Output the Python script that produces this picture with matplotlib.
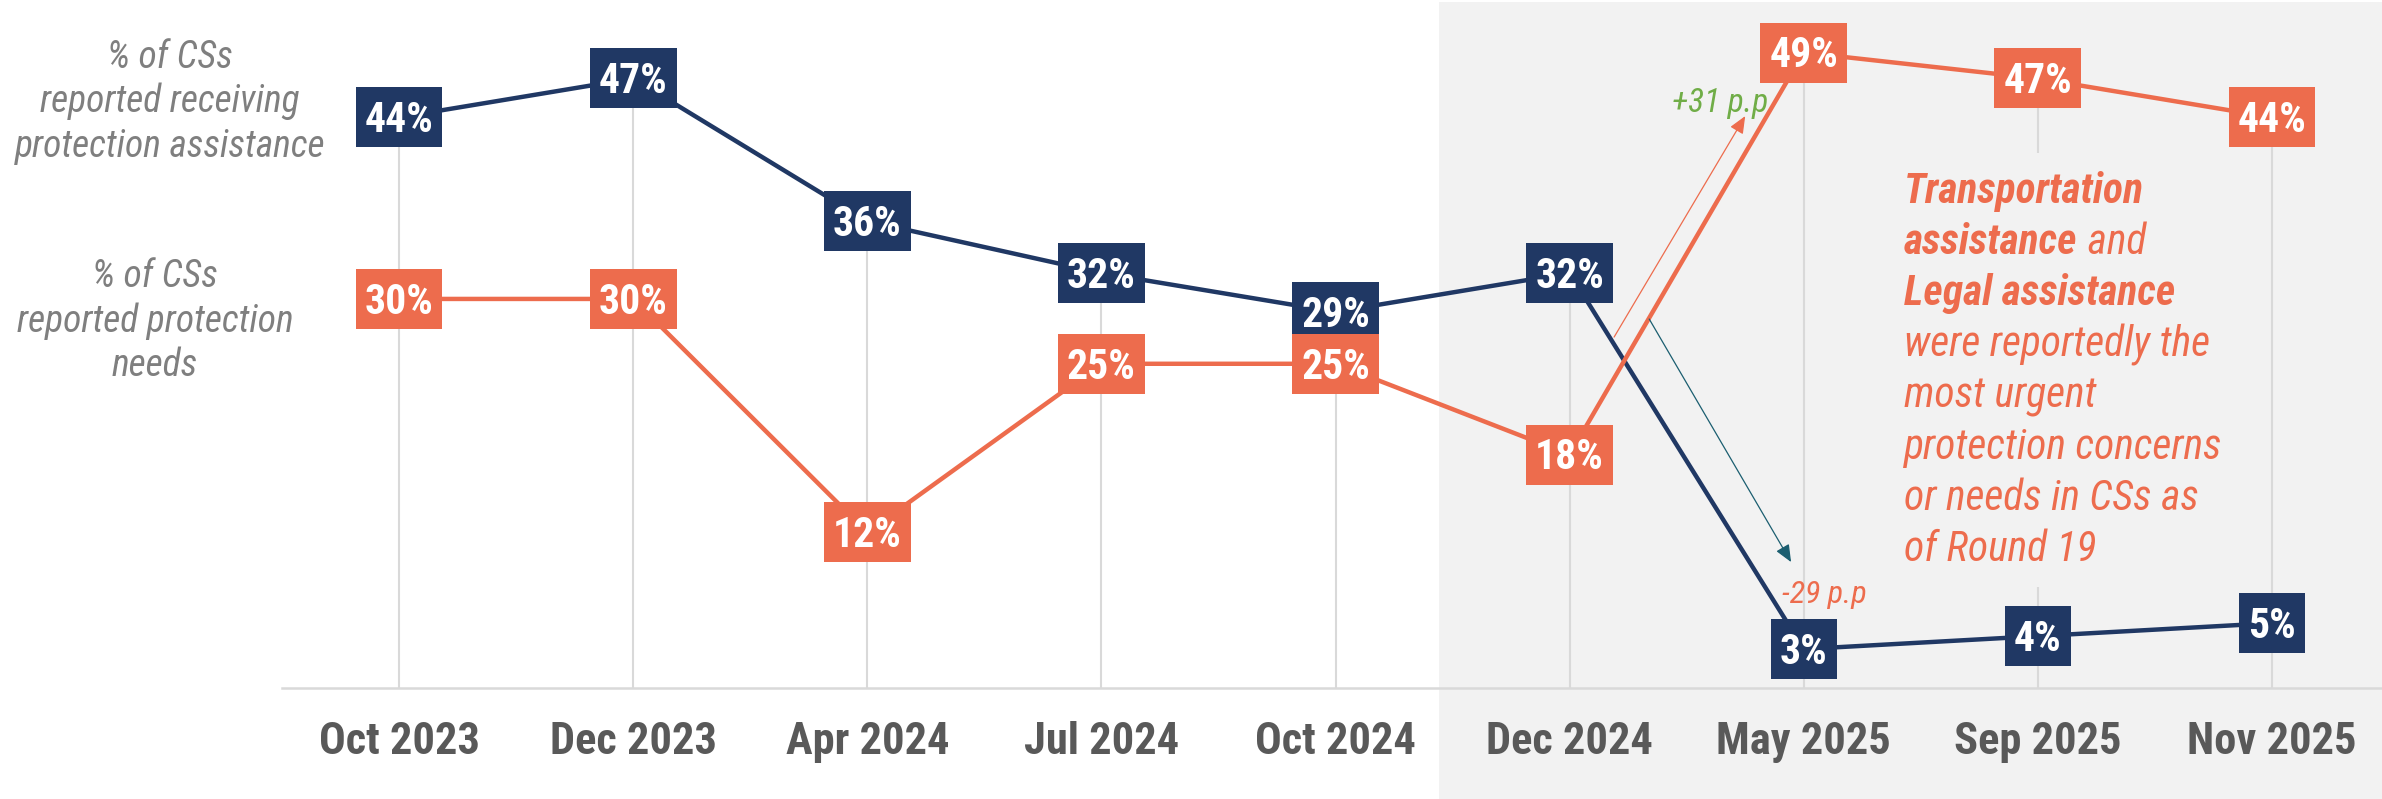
import matplotlib
matplotlib.use("Agg")
import matplotlib.pyplot as plt
import matplotlib.transforms as mtransforms
from matplotlib import font_manager as fm
from matplotlib.patches import Rectangle

# ---------------- data ----------------
categories = ["Oct 2023", "Dec 2023", "Apr 2024", "Jul 2024", "Oct 2024",
              "Dec 2024", "May 2025", "Sep 2025", "Nov 2025"]
receiving = [44, 47, 36, 32, 29, 32, 3, 4, 5]      # % CSs receiving protection assistance
needs = [30, 30, 12, 25, 25, 18, 49, 47, 44]        # % CSs reporting protection needs

# ---------------- style ----------------
NAVY = "#203864"
ORANGE = "#ED6C4D"
GREEN = "#70AD47"
TEAL = "#1B5E70"
GRID = "#d9d9d9"
SHADE = "#f2f2f2"
TICK = "#595959"
LABEL = "#7f7f7f"

names = {f.name for f in fm.fontManager.ttflist}


def pick(cands):
    for c in cands:
        if c in names:
            return c
    return "DejaVu Sans"


COND = pick(["Roboto Condensed", "Liberation Sans Narrow", "DejaVu Sans"])
WS = 1.0 if COND == "Roboto Condensed" else 1.1

W, H = 2382, 799
fig = plt.figure(figsize=(W / 100, H / 100), dpi=100)
fig.patch.set_facecolor("white")
ax = fig.add_axes([282 / W, 111 / H, 1 - 282 / W, 688 / H])
ax.set_facecolor("none")
ax.set_xlim(-0.5, 8.47)
ax.set_ylim(0, 53.05)

x = list(range(len(categories)))

# shaded "recent" region
trans = mtransforms.blended_transform_factory(ax.transData, fig.transFigure)
fig.patches.append(Rectangle((4.44, 0), 10, 1 - 2 / H, transform=trans,
                             facecolor=SHADE, edgecolor="none", zorder=-1))

for s in ["top", "right", "left"]:
    ax.spines[s].set_visible(False)
ax.spines["bottom"].set_color(GRID)
ax.spines["bottom"].set_linewidth(1.8)
ax.set_yticks([])
ax.set_xticks(x, categories)
ax.tick_params(axis="x", length=0, pad=24, labelsize=32, labelcolor=TICK)
for lbl in ax.get_xticklabels():
    lbl.set_fontfamily(COND)
    lbl.set_fontweight("bold")

# drop lines
tops = [max(a, b) for a, b in zip(receiving, needs)]
ax.vlines(x, 0, tops, colors=GRID, lw=1.5, zorder=1)

# lines
ax.plot(x, receiving, color=NAVY, lw=3.2, zorder=3)
ax.plot(x, needs, color=ORANGE, lw=3.2, zorder=4)

# value labels in boxes
FS = 30
CAP = FS * 0.716
texts = []
for vals, col in [(receiving, NAVY), (needs, ORANGE)]:
    for xi, v in zip(x, vals):
        t = ax.annotate(f"{v}%", (xi, v), xytext=(0, -CAP / 2),
                        textcoords="offset points", ha="center", va="baseline",
                        color="white", fontsize=FS, fontweight="bold",
                        family=COND, zorder=8)
        texts.append((t, xi, v, col))

# annotation block background (hides the drop line behind the text)
ax.add_patch(Rectangle((6.386, 7.79), 7.86 - 6.386, 41.25 - 7.79,
                       facecolor=SHADE, edgecolor="none", zorder=2))

# change arrows
ax.annotate("", xy=(5.75, 44.1), xytext=(5.19, 27.06),
            arrowprops=dict(arrowstyle="-|>,head_length=1.05,head_width=0.45",
                            color=ORANGE, lw=0.9, shrinkA=0, shrinkB=0), zorder=5)
ax.annotate("", xy=(5.946, 9.71), xytext=(5.34, 28.45),
            arrowprops=dict(arrowstyle="-|>,head_length=1.05,head_width=0.45",
                            color=TEAL, lw=0.9, shrinkA=0, shrinkB=0), zorder=5)
ax.text(5.438, 44.4, "+31 p.p", color=GREEN, style="italic", fontsize=24,
        family=COND, ha="left", va="baseline", zorder=5)
ax.text(5.908, 6.55, "-29 p.p", color=ORANGE, style="italic", fontsize=23,
        family=COND, ha="left", va="baseline", zorder=5)

# left series labels
left1 = ["% of CSs", "reported receiving", "protection assistance"]
left2 = ["% of CSs", "reported protection", "needs"]
for lines, cx, b0 in [(left1, 170, 68), (left2, 155, 287)]:
    for i, s in enumerate(lines):
        fig.text(cx / W, 1 - (b0 + 44.5 * i) / H, s, ha="center", va="baseline",
                 fontsize=27 * WS, style="italic", color=LABEL, family=COND,
                 fontweight="normal")

# annotation block text
ann_lines = [
    [("Transportation", True)],
    [("assistance", True), (" and", False)],
    [("Legal assistance", True)],
    [("were reportedly the", False)],
    [("most urgent", False)],
    [("protection concerns", False)],
    [("or needs in CSs as", False)],
    [("of Round 19", False)],
]
AFS = 30 * WS
followers = []
for i, parts in enumerate(ann_lines):
    b = 203 + 51.1 * i
    prev = None
    for s, bold in parts:
        kw = dict(fontsize=AFS, style="italic", color=ORANGE, family=COND,
                  fontweight="bold" if bold else "normal")
        if prev is None:
            prev = fig.text(1904 / W, 1 - b / H, s, ha="left", va="baseline", **kw)
        else:
            t = fig.text(0, 1 - b / H, s, ha="left", va="baseline", **kw)
            followers.append((prev, t))
            prev = t

fig.canvas.draw()
r = fig.canvas.get_renderer()

for prev, t in followers:
    bb = prev.get_window_extent(r)
    t.set_x(bb.x1 / W)

# boxes around value labels
for t, xi, v, col in texts:
    bb = t.get_window_extent(r)
    cx, cy = ax.transData.transform((xi, v))
    w = bb.width + 18
    h = 60
    rect = Rectangle((cx - w / 2, cy - h / 2), w, h,
                     transform=mtransforms.IdentityTransform(),
                     facecolor=col, edgecolor="none", zorder=7, clip_on=False)
    ax.add_artist(rect)

fig.savefig("out.png", dpi=100)
